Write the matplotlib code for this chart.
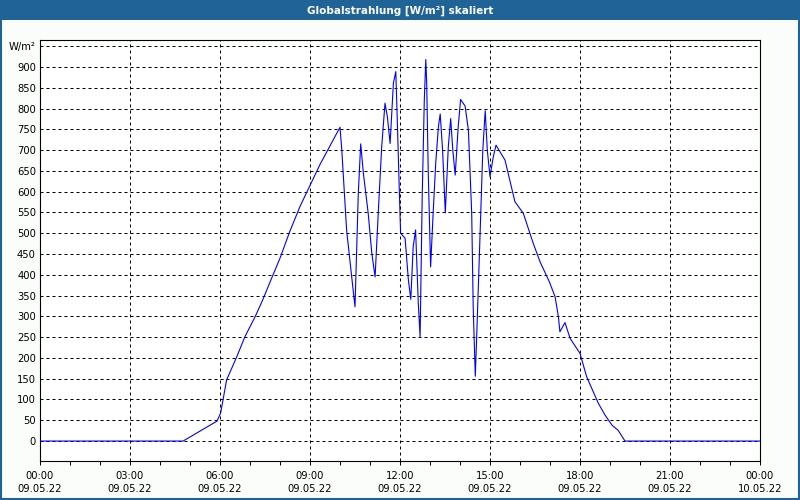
import matplotlib.pyplot as plt
from matplotlib.patches import Rectangle
from matplotlib.ticker import MultipleLocator

# time in hours since 09.05.22 00:00, irradiance in W/m²
hours = [0.00, 4.77, 5.90, 6.02, 6.22, 6.56, 6.83, 7.17, 7.42, 7.67, 8.00, 8.33,
         8.67, 9.33, 10.00, 10.06, 10.22, 10.39, 10.50, 10.61, 10.69, 10.78,
         10.94, 11.06, 11.17, 11.28, 11.39, 11.50, 11.58, 11.67, 11.78, 11.86,
         11.91, 11.97, 12.02, 12.17, 12.28, 12.36, 12.44, 12.52, 12.61, 12.67,
         12.74, 12.81, 12.86, 12.89, 12.94, 13.02, 13.11, 13.19, 13.28, 13.34,
         13.42, 13.51, 13.61, 13.69, 13.76, 13.84, 13.94, 14.02, 14.17, 14.28,
         14.39, 14.44, 14.51, 14.56, 14.67, 14.76, 14.84, 14.91, 15.00, 15.11,
         15.20, 15.50, 15.83, 16.11, 16.44, 16.67, 16.98, 17.17, 17.28, 17.33,
         17.50, 17.67, 18.00, 18.22, 18.61, 18.83, 19.07, 19.27, 19.50, 24.00]
values = [0, 0, 48, 67, 147, 203, 251, 299, 339, 383, 440, 505,
          565, 665, 755, 700, 508, 395, 323, 596, 715, 644,
          548, 452, 395, 556, 708, 813, 780, 716, 861, 889,
          772, 620, 500, 488, 387, 341, 468, 508, 331, 251,
          588, 821, 918, 861, 652, 419, 556, 668, 756, 787,
          700, 549, 708, 776, 700, 640, 756, 822, 806, 748,
          548, 323, 156, 259, 500, 700, 795, 700, 636, 684,
          712, 676, 576, 548, 476, 431, 383, 347, 299, 263,
          285, 247, 211, 155, 91, 63, 38, 26, 0, 0]

x_ticks = [0, 3, 6, 9, 12, 15, 18, 21, 24]
x_labels = ["00:00\n09.05.22", "03:00\n09.05.22", "06:00\n09.05.22",
            "09:00\n09.05.22", "12:00\n09.05.22", "15:00\n09.05.22",
            "18:00\n09.05.22", "21:00\n09.05.22", "00:00\n10.05.22"]
y_ticks = list(range(0, 951, 50))
y_labels = [str(v) for v in y_ticks[:-1]] + ["W/m²"]

title = "Globalstrahlung [W/m²] skaliert"
bar_color = "#1f6397"

plt.rcParams["font.family"] = ["DejaVu Sans"]

fig = plt.figure(figsize=(8, 5), dpi=100, facecolor="#fbfdfb")

# blue title bar and frame
fig.patches.append(Rectangle((0, 0.96), 1, 0.04, transform=fig.transFigure,
                             facecolor=bar_color, edgecolor="none", zorder=0))
fig.patches.append(Rectangle((0.0012, 0.002), 0.9976, 0.996, transform=fig.transFigure,
                             facecolor="none", edgecolor=bar_color, linewidth=1.5, zorder=0))
fig.text(0.5, 0.979, title, color="white", fontsize=7.5, fontweight="bold",
         ha="center", va="center")

ax = fig.add_axes([0.05, 0.078, 0.9, 0.842])
ax.set_facecolor("white")
ax.plot(hours, values, color="#0000ff", linewidth=0.8, zorder=3)

ax.set_xlim(0, 24)
ax.set_ylim(-48, 965)

ax.set_xticks(x_ticks)
ax.set_xticklabels(x_labels, fontsize=7.2, linespacing=1.45)
ax.xaxis.set_minor_locator(MultipleLocator(1))
ax.tick_params(axis="x", which="both", direction="out", length=3, width=0.7,
               pad=4, color="black")

ax.set_yticks(y_ticks)
ax.set_yticklabels(y_labels, fontsize=7.2)
ax.tick_params(axis="y", length=0, pad=3)

ax.grid(True, which="major", color="black", linestyle=(0, (3, 3)), linewidth=0.72)

for s in ax.spines.values():
    s.set_color("black")
    s.set_linewidth(0.8)

fig.savefig("out.png", dpi=100, facecolor=fig.get_facecolor())
